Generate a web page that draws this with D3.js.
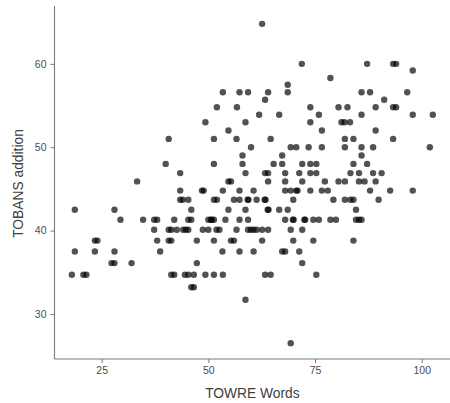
<!DOCTYPE html>
<html>
<head>
<meta charset="utf-8">
<script src="https://cdn.jsdelivr.net/npm/d3@7"></script>
<style>
  html, body { margin: 0; padding: 0; background: #fff; }
  svg { display: block; font-family: "Liberation Sans", Arial, sans-serif; }
</style>
</head>
<body>
<svg id="chart" width="450" height="403"></svg>
<script>
// TOWRE word-reading score and TOBANS addition score, one entry per child
const towreWords = [
  62.6,
  71.9, 87.2, 93.3, 94.0,
  97.9,
  78.6,
  68.6,
  53.4, 57.3, 59.3, 64.0, 68.6, 85.9, 87.9, 96.6,
  63.3, 91.2,
  52.0, 56.7, 73.9, 80.5, 82.6, 89.2, 93.3, 94.0,
  61.9, 66.6, 75.9, 85.9, 97.9, 102.6,
  49.3, 58.7, 73.9, 81.2, 81.9, 83.2,
  54.7, 76.6, 89.2,
  40.7, 51.3, 56.6, 64.6, 82.0, 84.0, 93.3,
  60.0, 69.3, 70.6, 73.5, 76.6, 82.0, 85.9, 88.6, 101.9,
  58.0, 67.3, 85.9,
  40.0, 51.3, 58.0, 65.3, 67.3, 72.0, 73.9, 75.3, 84.0, 87.2,
  43.4, 58.7, 63.3, 64.0, 68.0, 71.3, 73.9, 75.3, 83.3, 85.3, 88.6, 90.6,
  33.3, 54.7, 55.3, 64.0, 68.0, 72.0, 77.3, 80.5, 82.0, 85.3, 86.6, 89.2,
  43.4, 48.5, 48.9, 53.4, 57.3, 60.6, 68.0, 69.3, 70.6, 70.9, 73.9, 76.6, 78.0, 87.9, 92.6, 97.9,
  43.4, 44.0, 45.3, 51.3, 52.0, 56.0, 57.3, 59.2, 59.4, 61.3, 63.2, 63.4, 69.9, 79.3, 82.0, 83.3, 84.0, 89.9,
  18.7, 28.0, 46.0, 54.7, 58.7, 63.9, 64.1, 66.6, 68.6, 84.6,
  29.4, 34.7, 37.3, 38.0, 42.0, 45.3, 46.0, 50.0, 50.6, 50.8, 51.3, 54.0, 57.3, 59.3, 68.0, 69.8, 70.0, 72.5, 72.7, 74.6, 75.9, 78.6, 79.9, 84.6, 85.3, 85.9,
  37.3, 40.7, 41.3, 42.6, 44.1, 44.7, 45.3, 48.7, 50.0, 51.9, 52.6, 56.6, 59.3, 60.0, 60.6, 61.3, 62.6, 64.0, 69.3, 72.0,
  23.4, 24.0, 38.0, 40.7, 41.3, 47.3, 51.3, 55.3, 56.0, 62.6, 69.9, 74.6, 84.0,
  18.7, 23.4, 28.0, 38.7, 53.3, 57.3, 60.6, 67.3, 68.0, 71.3,
  27.3, 28.0, 32.0, 47.3, 72.0,
  18.0, 20.7, 21.4, 41.3, 42.0, 44.5, 45.3, 46.6, 49.3, 51.3, 53.4, 63.3, 64.6, 75.3,
  46.0, 46.6,
  58.7,
  69.3
];

const tobansAddition = [
  64.8,
  60.0, 60.0, 60.0, 60.0,
  59.2,
  58.3,
  57.5,
  56.6, 56.6, 56.6, 56.6, 56.6, 56.6, 56.6, 56.6,
  55.7, 55.7,
  54.8, 54.8, 54.8, 54.8, 54.8, 54.8, 54.8, 54.8,
  53.9, 53.9, 53.9, 53.9, 53.9, 53.9,
  53.0, 53.0, 53.0, 53.0, 53.0, 53.0,
  52.0, 52.0, 52.0,
  51.0, 51.0, 51.0, 51.0, 51.0, 51.0, 51.0,
  50.0, 50.0, 50.0, 50.0, 50.0, 50.0, 50.0, 50.0, 50.0,
  49.0, 49.0, 49.0,
  48.0, 48.0, 48.0, 48.0, 48.0, 48.0, 48.0, 48.0, 48.0, 48.0,
  46.9, 46.9, 46.9, 46.9, 46.9, 46.9, 46.9, 46.9, 46.9, 46.9, 46.9, 46.9,
  45.9, 45.9, 45.9, 45.9, 45.9, 45.9, 45.9, 45.9, 45.9, 45.9, 45.9, 45.9,
  44.8, 44.8, 44.8, 44.8, 44.8, 44.8, 44.8, 44.8, 44.8, 44.8, 44.8, 44.8, 44.8, 44.8, 44.8, 44.8,
  43.7, 43.7, 43.7, 43.7, 43.7, 43.7, 43.7, 43.7, 43.7, 43.7, 43.7, 43.7, 43.7, 43.7, 43.7, 43.7, 43.7, 43.7,
  42.5, 42.5, 42.5, 42.5, 42.5, 42.5, 42.5, 42.5, 42.5, 42.5,
  41.3, 41.3, 41.3, 41.3, 41.3, 41.3, 41.3, 41.3, 41.3, 41.3, 41.3, 41.3, 41.3, 41.3, 41.3, 41.3, 41.3, 41.3, 41.3, 41.3, 41.3, 41.3, 41.3, 41.3, 41.3, 41.3,
  40.1, 40.1, 40.1, 40.1, 40.1, 40.1, 40.1, 40.1, 40.1, 40.1, 40.1, 40.1, 40.1, 40.1, 40.1, 40.1, 40.1, 40.1, 40.1, 40.1,
  38.8, 38.8, 38.8, 38.8, 38.8, 38.8, 38.8, 38.8, 38.8, 38.8, 38.8, 38.8, 38.8,
  37.5, 37.5, 37.5, 37.5, 37.5, 37.5, 37.5, 37.5, 37.5, 37.5,
  36.1, 36.1, 36.1, 36.1, 36.1,
  34.7, 34.7, 34.7, 34.7, 34.7, 34.7, 34.7, 34.7, 34.7, 34.7, 34.7, 34.7, 34.7, 34.7,
  33.2, 33.2,
  31.7,
  26.5
];

const xTicks = [25, 50, 75, 100];
const yTicks = [30, 40, 50, 60];
const xTitle = "TOWRE Words";
const yTitle = "TOBANS addition";

const points = towreWords.map((w, i) => ({ words: w, addition: tobansAddition[i] }));

const svg = d3.select("#chart");
const panel = { left: 54.5, right: 450.3, top: 6, bottom: 359 };

const x = d3.scaleLinear().domain([13.94, 106.7]).range([panel.left, panel.right]);
const y = d3.scaleLinear().domain([24.6, 66.7]).range([panel.bottom, 8]);

const axisColor = "#7a7a7a";
const tickTextColor = "#4d4d4d";
const titleColor = "#404040";

// points
svg.append("g")
  .selectAll("circle")
  .data(points)
  .join("circle")
  .attr("cx", d => x(d.words))
  .attr("cy", d => y(d.addition))
  .attr("r", 3.2)
  .attr("fill", "#000")
  .attr("fill-opacity", 0.68);

// x axis
const gx = svg.append("g")
  .attr("transform", `translate(0,${panel.bottom})`)
  .call(d3.axisBottom(x).tickValues(xTicks).tickSize(4).tickPadding(4).tickSizeOuter(0));
gx.select(".domain").remove();
gx.selectAll(".tick line").attr("stroke", axisColor).attr("stroke-width", 1);
gx.selectAll(".tick text")
  .attr("fill", tickTextColor)
  .style("font-size", "10.5px");
svg.append("line")
  .attr("x1", panel.left).attr("x2", 450)
  .attr("y1", panel.bottom).attr("y2", panel.bottom)
  .attr("stroke", axisColor).attr("stroke-width", 1.1);

// y axis
const gy = svg.append("g")
  .attr("transform", `translate(${panel.left},0)`)
  .call(d3.axisLeft(y).tickValues(yTicks).tickSize(4).tickPadding(4).tickSizeOuter(0));
gy.select(".domain").remove();
gy.selectAll(".tick line").attr("stroke", axisColor).attr("stroke-width", 1);
gy.selectAll(".tick text")
  .attr("fill", tickTextColor)
  .style("font-size", "10.5px");
svg.append("line")
  .attr("x1", panel.left).attr("x2", panel.left)
  .attr("y1", panel.top).attr("y2", panel.bottom)
  .attr("stroke", axisColor).attr("stroke-width", 1.1);

// axis titles
svg.append("text")
  .attr("x", (panel.left + panel.right) / 2)
  .attr("y", 398)
  .attr("text-anchor", "middle")
  .attr("fill", titleColor)
  .style("font-size", "13.8px")
  .text(xTitle);

svg.append("text")
  .attr("transform", `translate(23,${(panel.top + panel.bottom) / 2 + 1}) rotate(-90)`)
  .attr("text-anchor", "middle")
  .attr("fill", titleColor)
  .style("font-size", "13.8px")
  .text(yTitle);
</script>
</body>
</html>
